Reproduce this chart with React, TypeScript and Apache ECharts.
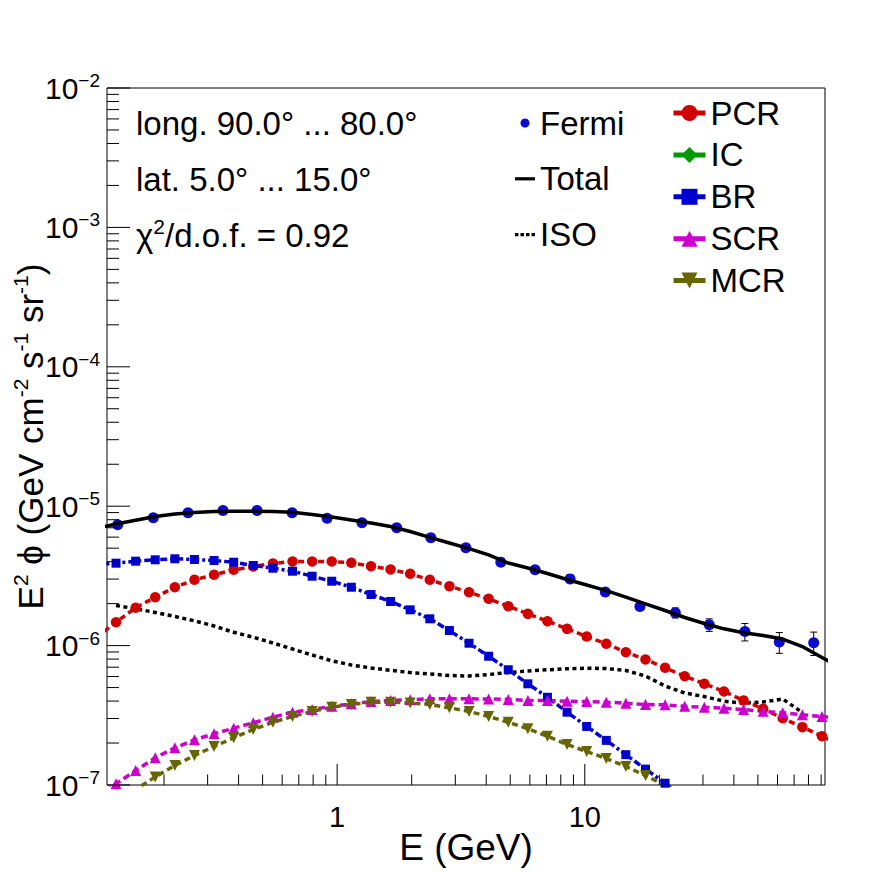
import React, { useEffect, useRef } from "react";
import * as echarts from "echarts";

const FONT = "'Liberation Sans', Arial, Helvetica, sans-serif";

const xMin = 0.1177;
const xMax = 93.3;
const yMin = 1e-7;
const yMax = 1e-2;

const xMajorTicks = [1, 10];
const xMinorTicks = [0.2, 0.3, 0.4, 0.5, 0.6, 0.7, 0.8, 0.9, 2, 3, 4, 5, 6, 7, 8, 9, 20, 30, 40, 50, 60, 70, 80, 90];
const yMajorTicks = [1e-7, 1e-6, 1e-5, 1e-4, 1e-3, 1e-2];
const yMinorMult = [2, 3, 4, 5, 6, 7, 8, 9];

// Fermi data points
const fermiE = [0.130, 0.181, 0.250, 0.346, 0.475, 0.658, 0.911, 1.26, 1.74, 2.39, 3.31, 4.58, 6.30, 8.72, 12.1, 16.7, 23.2, 31.8, 44.3, 61.0, 84.0];
const fermiFlux = [7.36e-6, 8.26e-6, 8.97e-6, 9.32e-6, 9.32e-6, 8.97e-6, 8.20e-6, 7.60e-6, 7.00e-6, 5.93e-6, 5.03e-6, 3.97e-6, 3.50e-6, 3.01e-6, 2.42e-6, 1.91e-6, 1.72e-6, 1.41e-6, 1.26e-6, 1.06e-6, 1.05e-6];
const fermiErr = [1.0e-7, 1.0e-7, 1.1e-7, 1.1e-7, 1.1e-7, 1.1e-7, 1.0e-7, 1.0e-7, 1.0e-7, 0.9e-7, 0.8e-7, 0.7e-7, 0.7e-7, 0.7e-7, 0.7e-7, 0.8e-7, 1.43e-7, 1.45e-7, 1.8e-7, 1.8e-7, 2.0e-7];

// model energy grid
const modelE = [0.1067, 0.128, 0.1536, 0.1843, 0.2212, 0.2654, 0.3185, 0.3822, 0.4586, 0.5504, 0.6605, 0.7925, 0.951, 1.141, 1.370, 1.644, 1.972, 2.367, 2.840, 3.408, 4.090, 4.908, 5.890, 7.067, 8.481, 10.18, 12.21, 14.65, 17.58, 21.10, 25.32, 30.38, 36.46, 43.75, 52.50, 63.00, 75.60, 90.72, 108.9];

const totalFlux = [6.918e-6, 7.453e-6, 7.934e-6, 8.435e-6, 8.790e-6, 9.01e-6, 9.16e-6, 9.21e-6, 9.21e-6, 9.16e-6, 9.04e-6, 8.72e-6, 8.37e-6, 7.96e-6, 7.58e-6, 7.15e-6, 6.58e-6, 5.98e-6, 5.45e-6, 4.96e-6, 4.47e-6, 3.91e-6, 3.60e-6, 3.29e-6, 2.98e-6, 2.72e-6, 2.48e-6, 2.23e-6, 1.995e-6, 1.785e-6, 1.591e-6, 1.441e-6, 1.319e-6, 1.238e-6, 1.182e-6, 1.115e-6, 9.85e-7, 8.22e-7, 6.85e-7];
const isoFlux = [null, 1.940e-6, 1.839e-6, 1.728e-6, 1.617e-6, 1.506e-6, 1.382e-6, 1.246e-6, 1.149e-6, 1.044e-6, 9.45e-7, 8.56e-7, 7.78e-7, 7.26e-7, 6.91e-7, 6.65e-7, 6.41e-7, 6.26e-7, 6.10e-7, 6.05e-7, 6.20e-7, 6.41e-7, 6.57e-7, 6.71e-7, 6.82e-7, 6.88e-7, 6.85e-7, 6.63e-7, 6.05e-7, 5.13e-7, 4.57e-7, 4.31e-7, 3.99e-7, 3.86e-7, 3.94e-7, 4.14e-7, 3.31e-7, null, null];
const pcrFlux = [1.143e-6, 1.472e-6, 1.867e-6, 2.225e-6, 2.623e-6, 2.965e-6, 3.220e-6, 3.498e-6, 3.694e-6, 3.882e-6, 4.012e-6, 4.012e-6, 4.012e-6, 3.926e-6, 3.713e-6, 3.515e-6, 3.274e-6, 2.965e-6, 2.667e-6, 2.416e-6, 2.166e-6, 1.917e-6, 1.690e-6, 1.496e-6, 1.319e-6, 1.162e-6, 1.030e-6, 8.97e-7, 7.95e-7, 6.93e-7, 6.03e-7, 5.32e-7, 4.69e-7, 4.04e-7, 3.52e-7, 3.01e-7, 2.60e-7, 2.24e-7, 1.92e-7];
const icFlux: (number | null)[] = [];
const brFlux = [3.818e-6, 3.901e-6, 4.032e-6, 4.126e-6, 4.195e-6, 4.146e-6, 4.078e-6, 3.965e-6, 3.755e-6, 3.591e-6, 3.417e-6, 3.146e-6, 2.897e-6, 2.623e-6, 2.326e-6, 2.072e-6, 1.806e-6, 1.557e-6, 1.283e-6, 1.040e-6, 8.39e-7, 6.71e-7, 5.32e-7, 4.26e-7, 3.33e-7, 2.63e-7, 2.09e-7, 1.65e-7, 1.30e-7, 1.03e-7, 8.0e-8, null, null, null, null, null, null, null, null];
const scrFlux = [8.14e-8, 1.020e-7, 1.270e-7, 1.567e-7, 1.849e-7, 2.110e-7, 2.330e-7, 2.556e-7, 2.794e-7, 3.065e-7, 3.33e-7, 3.48e-7, 3.67e-7, 3.82e-7, 3.97e-7, 4.04e-7, 4.09e-7, 4.15e-7, 4.15e-7, 4.15e-7, 4.14e-7, 4.11e-7, 4.04e-7, 4.04e-7, 3.99e-7, 3.97e-7, 3.93e-7, 3.86e-7, 3.78e-7, 3.76e-7, 3.67e-7, 3.61e-7, 3.56e-7, 3.48e-7, 3.38e-7, 3.30e-7, 3.19e-7, 3.10e-7, 3.00e-7];
const mcrFlux = [null, 7.61e-8, 9.28e-8, 1.141e-7, 1.380e-7, 1.628e-7, 1.889e-7, 2.181e-7, 2.501e-7, 2.821e-7, 3.10e-7, 3.37e-7, 3.61e-7, 3.78e-7, 3.93e-7, 3.93e-7, 3.87e-7, 3.78e-7, 3.58e-7, 3.37e-7, 3.10e-7, 2.82e-7, 2.53e-7, 2.24e-7, 1.952e-7, 1.739e-7, 1.549e-7, 1.357e-7, 1.170e-7, 9.92e-8, 8.27e-8, null, null, null, null, null, null, null, null];

const annotations = ["long. 90.0° ... 80.0°", "lat. 5.0° ... 15.0°"];

const pairs = (vals: (number | null)[]) =>
  modelE.map((e, i) => [e, vals[i]]).filter((d) => d[1] != null);

export default function App() {
  const ref = useRef<HTMLDivElement>(null);
  useEffect(() => {
    if (!ref.current) return;
    const chart = echarts.init(ref.current, undefined, { renderer: "svg" });

    const xTickData = [
      ...xMajorTicks.map((v) => [v, yMin, 21]),
      ...xMinorTicks.map((v) => [v, yMin, 10.5]),
    ];
    const yTickData: number[][] = [];
    yMajorTicks.forEach((v) => yTickData.push([xMin, v, 23]));
    yMajorTicks.slice(0, -1).forEach((v) => yMinorMult.forEach((m) => yTickData.push([xMin, v * m, 12])));

    const modelLine = (name: string, vals: (number | null)[], color: string, dash: any, symbol: string, size: number, extra: any = {}) => ({
      name,
      type: "line",
      data: pairs(vals),
      symbol,
      symbolSize: size,
      showAllSymbol: true,
      clip: true,
      lineStyle: { color, width: 3.5, type: dash },
      itemStyle: { color },
      emphasis: { disabled: true },
      z: 3,
      ...extra,
    });

    const option: any = {
      animation: false,
      backgroundColor: "#ffffff",
      textStyle: { fontFamily: FONT },
      grid: {
        left: 107,
        right: 71,
        top: 88,
        bottom: 87,
        show: true,
        containLabel: false,
        outerBoundsMode: "none",
        borderColor: "#000",
        borderWidth: 1,
        backgroundColor: "transparent",
      },
      xAxis: {
        type: "log",
        logBase: 10,
        min: xMin,
        max: xMax,
        name: "E (GeV)",
        nameLocation: "middle",
        nameGap: 44,
        nameMoveOverlap: false,
        nameTextStyle: { fontSize: 37, color: "#000", fontFamily: FONT },
        axisLine: { show: false },
        axisTick: { show: false },
        splitLine: { show: false },
        axisLabel: {
          fontSize: 29,
          color: "#000",
          fontFamily: FONT,
          margin: 17,
          showMinLabel: false,
          showMaxLabel: false,
          formatter: (v: number) => {
            const l = Math.log10(v);
            if (Math.abs(l - Math.round(l)) > 0.01) return "";
            return String(Math.round(Math.pow(10, Math.round(l))));
          },
        },
      },
      yAxis: {
        type: "log",
        logBase: 10,
        min: yMin,
        max: yMax,
        name: "E{s|2} ϕ (GeV cm{s|-2} s{s|-1} sr{s|-1})",
        nameLocation: "middle",
        nameRotate: 90,
        nameGap: 57,
        nameMoveOverlap: false,
        nameTextStyle: {
          fontSize: 35,
          color: "#000",
          fontFamily: FONT,
          lineHeight: 40,
          rich: { s: { fontSize: 21, verticalAlign: "top", lineHeight: 22, fontFamily: FONT, color: "#000" } },
        },
        axisLine: { show: false },
        axisTick: { show: false },
        splitLine: { show: false },
        axisLabel: {
          margin: 7,
          color: "#000",
          formatter: (v: number) => {
            const e = Math.round(Math.log10(v));
            return `{b|10}{s|${e < 0 ? "\u2212" : ""}${Math.abs(e)}}`;
          },
          rich: {
            b: { fontSize: 30, lineHeight: 34, fontFamily: FONT, color: "#000" },
            s: { fontSize: 19, lineHeight: 20, verticalAlign: "top", fontFamily: FONT, color: "#000" },
          },
        },
      },
      legend: [
        {
          data: [
            { name: "Fermi" },
            { name: "Total", icon: "path://M0 0h20v3.2H0z" },
            { name: "ISO", icon: "path://M0 0h3.4v3.2H0zM5.4 0h3.4v3.2H5.4zM10.8 0h3.4v3.2h-3.4zM16.2 0h3.4v3.2h-3.4z" },
          ],
          orient: "vertical",
          left: 515,
          top: 106,
          padding: 0,
          itemWidth: 20,
          itemHeight: 9,
          itemGap: 21.8,
          selectedMode: false,
          symbolKeepAspect: true,
          textStyle: { fontSize: 33, color: "#000", fontFamily: FONT, lineHeight: 34 },
        },
        {
          data: ["PCR", "IC", "BR", "SCR", "MCR"],
          orient: "vertical",
          left: 671,
          top: 96,
          padding: 0,
          itemWidth: 32,
          itemHeight: 20,
          itemGap: 7.9,
          selectedMode: false,
          lineStyle: { type: "solid", width: 5 },
          textStyle: { fontSize: 33, color: "#000", fontFamily: FONT, lineHeight: 34 },
        },
      ],
      graphic: [
        {
          type: "text",
          x: 136,
          y: 123,
          style: { text: annotations[0], fontSize: 33, fontFamily: FONT, fill: "#000", verticalAlign: "middle" },
        },
        {
          type: "text",
          x: 136,
          y: 179,
          style: { text: annotations[1], fontSize: 33, fontFamily: FONT, fill: "#000", verticalAlign: "middle" },
        },
        {
          type: "text",
          x: 136,
          y: 235,
          style: {
            text: "{a|χ}{s|2}{a|/d.o.f. = 0.92}",
            verticalAlign: "middle",
            rich: {
              a: { fontSize: 33, lineHeight: 38, fontFamily: FONT, fill: "#000" },
              s: { fontSize: 21, lineHeight: 22, verticalAlign: "top", fontFamily: FONT, fill: "#000" },
            },
          },
        },
      ],
      series: [
        {
          name: "Fermi",
          type: "scatter",
          data: fermiE.map((e, i) => [e, fermiFlux[i]]),
          symbol: "circle",
          symbolSize: 11,
          itemStyle: { color: "#0a0ad0", opacity: 1 },
          emphasis: { disabled: true },
          z: 2,
        },
        {
          type: "custom",
          silent: true,
          z: 2,
          data: fermiE.map((e, i) => [e, fermiFlux[i] - fermiErr[i], fermiFlux[i] + fermiErr[i]]),
          renderItem: (params: any, api: any) => {
            const lo = api.coord([api.value(0), api.value(1)]);
            const hi = api.coord([api.value(0), api.value(2)]);
            const st = { stroke: "#000", lineWidth: 1 };
            return {
              type: "group",
              children: [
                { type: "line", shape: { x1: lo[0], y1: lo[1], x2: hi[0], y2: hi[1] }, style: st },
                { type: "line", shape: { x1: lo[0] - 3.5, y1: lo[1], x2: lo[0] + 3.5, y2: lo[1] }, style: st },
                { type: "line", shape: { x1: hi[0] - 3.5, y1: hi[1], x2: hi[0] + 3.5, y2: hi[1] }, style: st },
              ],
            };
          },
        },
        {
          name: "Total",
          type: "line",
          data: pairs(totalFlux),
          symbol: "none",
          clip: true,
          lineStyle: { color: "#000", width: 3.5, type: "solid" },
          itemStyle: { color: "#000" },
          emphasis: { disabled: true },
          z: 4,
        },
        {
          name: "ISO",
          type: "line",
          data: pairs(isoFlux),
          symbol: "none",
          clip: true,
          lineStyle: { color: "#000", width: 3.5, type: [4, 3.5] },
          itemStyle: { color: "#000" },
          emphasis: { disabled: true },
          z: 3,
        },
        modelLine("PCR", pcrFlux, "#d00000", [6, 4], "circle", 10.5),
        modelLine("IC", icFlux, "#009900", [6, 4], "path://M1 0L2 2L1 4L0 2Z", 11, { symbolKeepAspect: true }),
        modelLine("BR", brFlux, "#0000cc", [7, 3, 3, 3], "rect", 9),
        modelLine("SCR", scrFlux, "#cc00cc", [7, 4], "triangle", 11),
        modelLine("MCR", mcrFlux, "#666600", [6, 4], "path://M0 0L2 0L1 1.8Z", 11),
        {
          type: "custom",
          silent: true,
          z: 6,
          data: xTickData,
          renderItem: (params: any, api: any) => {
            const p = api.coord([api.value(0), api.value(1)]);
            const len = api.value(2);
            return { type: "line", shape: { x1: p[0], y1: p[1], x2: p[0], y2: p[1] - len }, style: { stroke: "#000", lineWidth: 1 } };
          },
        },
        {
          type: "custom",
          silent: true,
          z: 6,
          data: yTickData,
          renderItem: (params: any, api: any) => {
            const p = api.coord([api.value(0), api.value(1)]);
            const len = api.value(2);
            return { type: "line", shape: { x1: p[0], y1: p[1], x2: p[0] + len, y2: p[1] }, style: { stroke: "#000", lineWidth: 1 } };
          },
        },
      ],
    };

    chart.setOption(option);
    return () => chart.dispose();
  }, []);

  return (
    <div
      ref={ref}
      style={{ position: "absolute", left: 0, top: 0, width: 896, height: 872, background: "#fff" }}
    />
  );
}
